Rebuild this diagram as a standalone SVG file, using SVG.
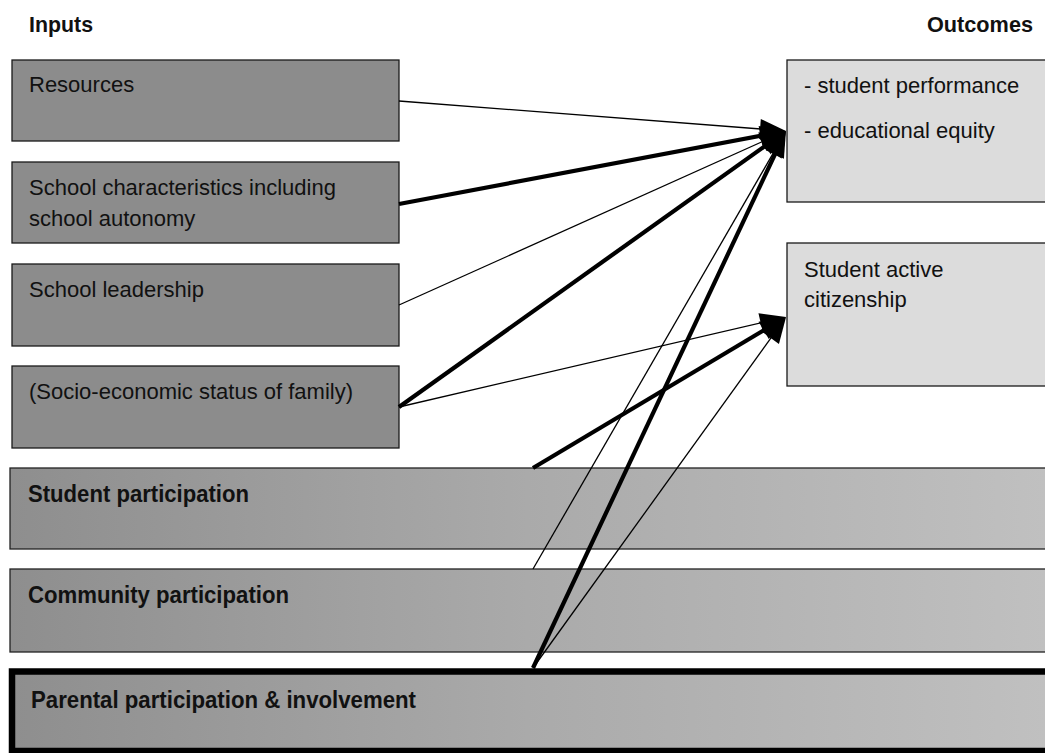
<svg xmlns="http://www.w3.org/2000/svg" width="1045" height="753" viewBox="0 0 1045 753">
  <style>
    .in { fill: #8c8c8c; stroke: #1a1a1a; stroke-width: 1.3; }
    .out { fill: #dcdcdc; stroke: #1a1a1a; stroke-width: 1.3; }
    .bar { fill: url(#barGrad); stroke: #222; stroke-width: 1.3; }
    .barThick { fill: url(#barGrad); stroke: #000; stroke-width: 6.5; }
    text { font-family: "Liberation Sans", Arial, sans-serif; fill: #111; }
    .t { font-size: 22px; }
    .b { font-size: 23px; font-weight: bold; }
    .h { font-size: 22px; font-weight: bold; }
    .thin { stroke: #000; stroke-width: 1.3; fill: none; marker-end: url(#arrow); }
    .thick { stroke: #000; stroke-width: 4.2; fill: none; marker-end: url(#arrow); }
  </style>
  <defs>
    <linearGradient id="barGrad" gradientUnits="userSpaceOnUse" x1="10" y1="0" x2="1045" y2="0">
      <stop offset="0" stop-color="#8e8e8e"/>
      <stop offset="0.5" stop-color="#aaaaaa"/>
      <stop offset="1" stop-color="#c0c0c0"/>
    </linearGradient>
    <marker id="arrow" markerUnits="userSpaceOnUse" markerWidth="26" markerHeight="20" refX="16" refY="10" orient="auto" overflow="visible">
      <path d="M0,0 L26,10 L0,20 z" fill="#000"/>
    </marker>
  </defs>

  <text class="h" x="29" y="32" textLength="64" lengthAdjust="spacingAndGlyphs">Inputs</text>
  <text class="h" x="927" y="32" textLength="106" lengthAdjust="spacingAndGlyphs">Outcomes</text>

  <g id="resources">
    <rect class="in" x="12" y="60" width="387" height="81"/>
    <text class="t" x="29" y="92">Resources</text>
  </g>
  <g id="school-characteristics">
    <rect class="in" x="12" y="162" width="387" height="81"/>
    <text class="t" x="29" y="195">School characteristics including</text>
    <text class="t" x="29" y="226">school autonomy</text>
  </g>
  <g id="school-leadership">
    <rect class="in" x="12" y="264" width="387" height="82"/>
    <text class="t" x="29" y="297">School leadership</text>
  </g>
  <g id="socio-economic">
    <rect class="in" x="12" y="366" width="387" height="82"/>
    <text class="t" x="29" y="399">(Socio-economic status of family)</text>
  </g>

  <g id="outcome-performance">
    <rect class="out" x="787" y="60" width="300" height="142"/>
    <text class="t" x="804" y="93">- student performance</text>
    <text class="t" x="804" y="138">- educational equity</text>
  </g>
  <g id="outcome-citizenship">
    <rect class="out" x="787" y="243" width="300" height="143"/>
    <text class="t" x="804" y="277">Student active</text>
    <text class="t" x="804" y="307">citizenship</text>
  </g>

  <g id="student-participation">
    <rect class="bar" x="10" y="468" width="1100" height="81"/>
    <text class="b" x="28" y="502" textLength="221" lengthAdjust="spacingAndGlyphs">Student participation</text>
  </g>
  <g id="community-participation">
    <rect class="bar" x="10" y="569" width="1100" height="83"/>
    <text class="b" x="28" y="603" textLength="261" lengthAdjust="spacingAndGlyphs">Community participation</text>
  </g>
  <g id="parental-participation">
    <rect class="barThick" x="12" y="671.5" width="1100" height="79.5"/>
    <text class="b" x="31" y="708" textLength="385" lengthAdjust="spacingAndGlyphs">Parental participation &amp; involvement</text>
  </g>

  <g id="connectors">
    <line class="thin" x1="399" y1="101" x2="776" y2="130.2"/>
    <line class="thick" x1="399" y1="204" x2="776.2" y2="132.9"/>
    <line class="thin" x1="399" y1="305" x2="776.9" y2="135.1"/>
    <line class="thick" x1="399" y1="407" x2="777.9" y2="136.8"/>
    <line class="thin" x1="399" y1="407" x2="776.3" y2="319.3"/>
    <line class="thick" x1="533" y1="468" x2="777.4" y2="322.1"/>
    <line class="thin" x1="533" y1="569" x2="781" y2="139.7"/>
    <line class="thick" x1="533" y1="668" x2="781.7" y2="140"/>
    <line class="thin" x1="533" y1="668" x2="780.2" y2="325.1"/>
  </g>
</svg>
